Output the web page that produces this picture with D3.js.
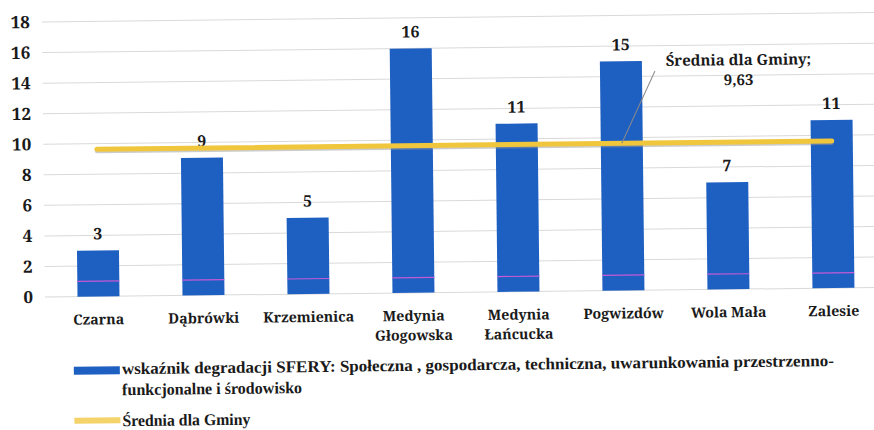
<!DOCTYPE html>
<html>
<head>
<meta charset="utf-8">
<script src="https://cdn.jsdelivr.net/npm/d3@7/dist/d3.min.js"></script>
</head>
<body style="margin:0;background:#fff">
<svg width="874" height="430"></svg>
<script>
var categories = ["Czarna", "Dąbrówki", "Krzemienica", "Medynia\nGłogowska", "Medynia\nŁańcucka", "Pogwizdów", "Wola Mała", "Zalesie"];
var values = [3, 9, 5, 16, 11, 15, 7, 11];
var average = 9.63;
var averageLabel = ["Średnia dla Gminy;", "9,63"];
var yTicks = [0, 2, 4, 6, 8, 10, 12, 14, 16, 18];
var legendLines = ["wskaźnik degradacji  SFERY: Społeczna , gospodarcza, techniczna, uwarunkowania przestrzenno-", "funkcjonalne i środowisko"];
var legendAvg = "Średnia dla Gminy";

var font = "Noto Serif";
var legendFont = "Liberation Serif";
var svg = d3.select("svg").attr("font-family", font);

// the scan is tilted a little, so the whole chart is turned a bit
var g = svg.append("g").attr("transform", "rotate(-0.65,46,297)");

var xScale = d3.scaleBand().domain(categories).range([46, 886]).paddingInner(0.6).paddingOuter(0.3);
var yScale = d3.scaleLinear().domain([0, 18]).range([297, 22]);

// grid
g.append("g")
  .selectAll("line")
  .data(yTicks)
  .enter()
  .append("line")
  .attr("x1", 45)
  .attr("x2", 900)
  .attr("y1", function (d) { return yScale(d); })
  .attr("y2", function (d) { return yScale(d); })
  .attr("stroke", "#d9d9d9")
  .attr("stroke-width", 1);

// y axis labels
var yAxis = g.append("g")
  .attr("transform", "translate(33,0)")
  .call(d3.axisLeft(yScale).tickValues(yTicks).tickSize(0).tickPadding(0));
yAxis.select(".domain").remove();
yAxis.attr("font-family", font);
yAxis.selectAll("text")
  .attr("font-family", font)
  .attr("font-weight", "bold")
  .attr("font-size", 17)
  .attr("fill", "#1a1a1a");

// bars
g.selectAll(".bar")
  .data(values)
  .enter()
  .append("rect")
  .attr("class", "bar")
  .attr("x", function (d, i) { return xScale(categories[i]); })
  .attr("y", function (d) { return yScale(d); })
  .attr("width", xScale.bandwidth())
  .attr("height", function (d) { return yScale(0) - yScale(d); })
  .attr("fill", "#1e5fc2");

// thin pink mark at 1 inside each bar
g.selectAll(".mark")
  .data(values)
  .enter()
  .append("line")
  .attr("x1", function (d, i) { return xScale(categories[i]); })
  .attr("x2", function (d, i) { return xScale(categories[i]) + xScale.bandwidth(); })
  .attr("y1", yScale(1))
  .attr("y2", yScale(1))
  .attr("stroke", "#c45ad6")
  .attr("stroke-width", 1.2);

// value labels
g.selectAll(".val")
  .data(values)
  .enter()
  .append("text")
  .attr("x", function (d, i) { return xScale(categories[i]) + xScale.bandwidth() / 2; })
  .attr("y", function (d) { return yScale(d) - 11; })
  .attr("text-anchor", "middle")
  .attr("font-weight", "bold")
  .attr("font-size", 16)
  .attr("fill", "#1a1a1a")
  .text(function (d) { return d; });

// category labels, one text per line
categories.forEach(function (c, i) {
  c.split("\n").forEach(function (l, j) {
    g.append("text")
      .attr("x", xScale(c) + xScale.bandwidth() / 2)
      .attr("y", 325 + j * 19.5)
      .attr("text-anchor", "middle")
      .attr("font-weight", "bold")
      .attr("font-size", 14.2)
      .attr("fill", "#1a1a1a")
      .text(l);
  });
});

// average line
var x0 = xScale(categories[0]) + xScale.bandwidth() / 2;
var x1 = xScale(categories[categories.length - 1]) + xScale.bandwidth() / 2;
g.append("line")
  .attr("x1", x0).attr("x2", x1)
  .attr("y1", yScale(average) + 2).attr("y2", yScale(average) + 2)
  .attr("stroke", "#9a9a9a").attr("stroke-width", 4).attr("stroke-linecap", "round").attr("opacity", 0.5);
g.append("line")
  .attr("x1", x0).attr("x2", x1)
  .attr("y1", yScale(average)).attr("y2", yScale(average))
  .attr("stroke", "#f0c63c").attr("stroke-width", 5).attr("stroke-linecap", "round");

// callout
var px = xScale(categories[5]) + xScale.bandwidth() / 2;
g.append("line")
  .attr("x1", px).attr("y1", yScale(average))
  .attr("x2", px + 34).attr("y2", 78)
  .attr("stroke", "#8a8a8a").attr("stroke-width", 1);
g.append("text")
  .attr("x", 741).attr("y", 73)
  .attr("text-anchor", "middle")
  .attr("font-weight", "bold").attr("font-size", 15).attr("fill", "#1a1a1a")
  .text(averageLabel[0]);
g.append("text")
  .attr("x", 741).attr("y", 93)
  .attr("text-anchor", "middle")
  .attr("font-weight", "bold").attr("font-size", 15).attr("fill", "#1a1a1a")
  .text(averageLabel[1]);

// legend
var lg = g.append("g").attr("font-family", legendFont);
lg.append("rect").attr("x", 73).attr("y", 367).attr("width", 46).attr("height", 8).attr("fill", "#1e5fc2");
lg.append("text").attr("x", 121).attr("y", 375)
  .attr("font-size", 16.5).attr("font-weight", "bold").attr("fill", "#1a1a1a")
  .attr("textLength", 712).attr("lengthAdjust", "spacingAndGlyphs")
  .text(legendLines[0]);
lg.append("text").attr("x", 121).attr("y", 396)
  .attr("font-size", 16.5).attr("font-weight", "bold").attr("fill", "#1a1a1a")
  .attr("textLength", 180).attr("lengthAdjust", "spacingAndGlyphs")
  .text(legendLines[1]);
lg.append("rect").attr("x", 73).attr("y", 418).attr("width", 46).attr("height", 6).attr("fill", "#f3d36a");
lg.append("text").attr("x", 121).attr("y", 427)
  .attr("font-size", 16.5).attr("font-weight", "bold").attr("fill", "#1a1a1a")
  .attr("textLength", 128).attr("lengthAdjust", "spacingAndGlyphs")
  .text(legendAvg);
</script>
</body>
</html>
